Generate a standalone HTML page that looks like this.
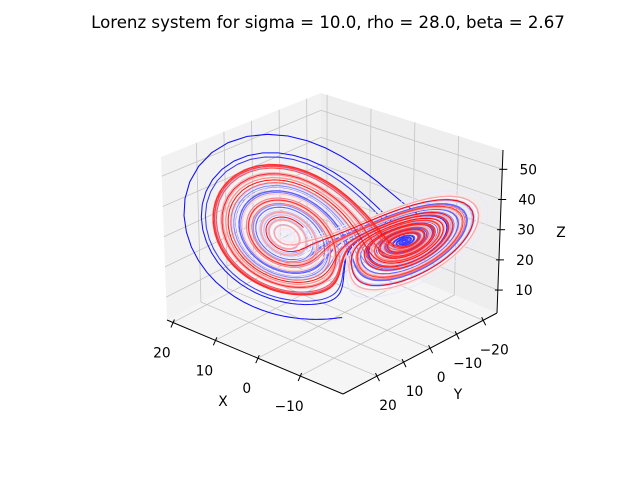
<!DOCTYPE html>
<html><head><meta charset="utf-8"><style>
html,body{margin:0;padding:0;background:#fff}
svg text{font-family:"DejaVu Sans","Liberation Sans",sans-serif}
</style></head><body>
<svg id="chart" width="640" height="480" viewBox="0 0 640 480" xmlns="http://www.w3.org/2000/svg">
<text x="328" y="28" font-size="16.6" text-anchor="middle">Lorenz system for sigma = 10.0, rho = 28.0, beta = 2.67</text>
<g id="panes"></g><g id="grid"></g><g id="series"></g><g id="axes"></g>
</svg>
<script>
const sigma=10.0, rho=28.0, beta=2.667;
const initialState=[0.0,1.0,1.05];
const dt=0.01, numSteps=10000, segLen=100;
const xTicks=[-10,0,10,20];
const yTicks=[-20,-10,0,10,20];
const zTicks=[10,20,30,40,50];
const xLim=[-20.1,21.4], yLim=[-25.2,32.8], zLim=[2.4,56.4];

const NS='http://www.w3.org/2000/svg';
function el(tag,attrs,parent){const e=document.createElementNS(NS,tag);for(const k in attrs)e.setAttribute(k,attrs[k]);parent.appendChild(e);return e;}
function proj(u,v,w){
  const bx=343-176*u+154*v, by=394-74*u-81*v;
  const h=180-17*u-17*v; const ezx=6*(v-u)*(h/163);
  return [bx+ezx*w*(163/h), by-h*w];
}
function P(X,Y,Z){
  const u=(X-xLim[0])/(xLim[1]-xLim[0]);
  const v=(yLim[1]-Y)/(yLim[1]-yLim[0]);
  const w=(Z-zLim[0])/(zLim[1]-zLim[0]);
  return proj(u,v,w);
}
function pts(a){return a.map(p=>p[0].toFixed(1)+','+p[1].toFixed(1)).join(' ');}
const panes=document.getElementById('panes'), grid=document.getElementById('grid'), series=document.getElementById('series'), axes=document.getElementById('axes');
let e;
e=el('polygon',{points:pts([proj(0,0,0),proj(1,0,0),proj(1,1,0),proj(0,1,0)]),fill:'#f5f5f5'},panes);

e=el('polygon',{points:pts([proj(1,0,0),proj(1,1,0),proj(1,1,1),proj(1,0,1)]),fill:'#f2f2f2'},panes);

e=el('polygon',{points:pts([proj(0,1,0),proj(1,1,0),proj(1,1,1),proj(0,1,1)]),fill:'#eeeeee'},panes);

const gs={stroke:'#c4c4c4','stroke-width':0.8,fill:'none'};
xTicks.forEach(t=>{
  e=el('polyline',Object.assign({points:pts([P(t,yLim[1],zLim[0]),P(t,yLim[0],zLim[0]),P(t,yLim[0],zLim[1])])},gs),grid);
  
});
yTicks.forEach(t=>{
  e=el('polyline',Object.assign({points:pts([P(xLim[0],t,zLim[0]),P(xLim[1],t,zLim[0]),P(xLim[1],t,zLim[1])])},gs),grid);
  
});
zTicks.forEach(t=>{
  e=el('polyline',Object.assign({points:pts([P(xLim[1],yLim[1],t),P(xLim[1],yLim[0],t),P(xLim[0],yLim[0],t)])},gs),grid);
  
});
const traj=[initialState.slice()];
for(let i=0;i<numSteps;i++){
  const [x,y,z]=traj[traj.length-1];
  traj.push([x+dt*sigma*(y-x), y+dt*(x*(rho-z)-y), z+dt*(x*y-beta*z)]);
}
function bwr(t){
  if(t<0.5){const s=t*2;return `rgb(${Math.round(255*s)},${Math.round(255*s)},255)`;}
  const s=(1-t)*2;return `rgb(255,${Math.round(255*s)},${Math.round(255*s)})`;
}
const nSeg=Math.ceil(numSteps/segLen);
for(let s=0;s<nSeg;s++){
  const chunk=traj.slice(s*segLen,Math.min((s+1)*segLen+1,traj.length)).map(p=>P(p[0],p[1],p[2]));
  e=el('polyline',{points:pts(chunk),fill:'none',stroke:bwr(s/(nSeg-1)),'stroke-width':1.05,'stroke-opacity':0.95},series);
  
}
const as={stroke:'#000','stroke-width':1,fill:'none'};
e=el('line',Object.assign({x1:proj(0,0,0)[0],y1:proj(0,0,0)[1],x2:proj(1,0,0)[0],y2:proj(1,0,0)[1]},as),axes);

e=el('line',Object.assign({x1:proj(0,0,0)[0],y1:proj(0,0,0)[1],x2:proj(0,1,0)[0],y2:proj(0,1,0)[1]},as),axes);

e=el('line',Object.assign({x1:proj(0,1,0)[0],y1:proj(0,1,0)[1],x2:proj(0,1,1)[0],y2:proj(0,1,1)[1]},as),axes);

function lab(t){return t<0?'\u2212'+(-t):String(t);}
xTicks.forEach(t=>{
  const p=P(t,yLim[1],zLim[0]);
  e=el('line',{x1:p[0]+1.5,y1:p[1]-3,x2:p[0]-2,y2:p[1]+5,stroke:'#000','stroke-width':1},axes);
  
  e=el('text',{x:p[0]-11,y:p[1]+35,'font-size':13.8,'text-anchor':'middle'},axes);e.textContent=lab(t);
  
});
yTicks.forEach(t=>{
  const p=P(xLim[0],t,zLim[0]);
  e=el('line',{x1:p[0]-1.5,y1:p[1]-3,x2:p[0]+2.5,y2:p[1]+5,stroke:'#000','stroke-width':1},axes);
  
  e=el('text',{x:p[0]+11,y:p[1]+34,'font-size':13.8,'text-anchor':'middle'},axes);e.textContent=lab(t);
  
});
zTicks.forEach(t=>{
  const p=P(xLim[0],yLim[0],t);
  e=el('line',{x1:p[0]-3,y1:p[1],x2:p[0]+5,y2:p[1],stroke:'#000','stroke-width':1},axes);
  
  e=el('text',{x:p[0]+26,y:p[1]+5,'font-size':13.8,'text-anchor':'middle'},axes);e.textContent=lab(t);
  
});
e=el('text',{x:223,y:406,'font-size':13.8,'text-anchor':'middle'},axes);e.textContent='X';

e=el('text',{x:458,y:399,'font-size':13.8,'text-anchor':'middle'},axes);e.textContent='Y';

e=el('text',{x:561,y:237,'font-size':13.8,'text-anchor':'middle'},axes);e.textContent='Z';

</script>
</body></html>
